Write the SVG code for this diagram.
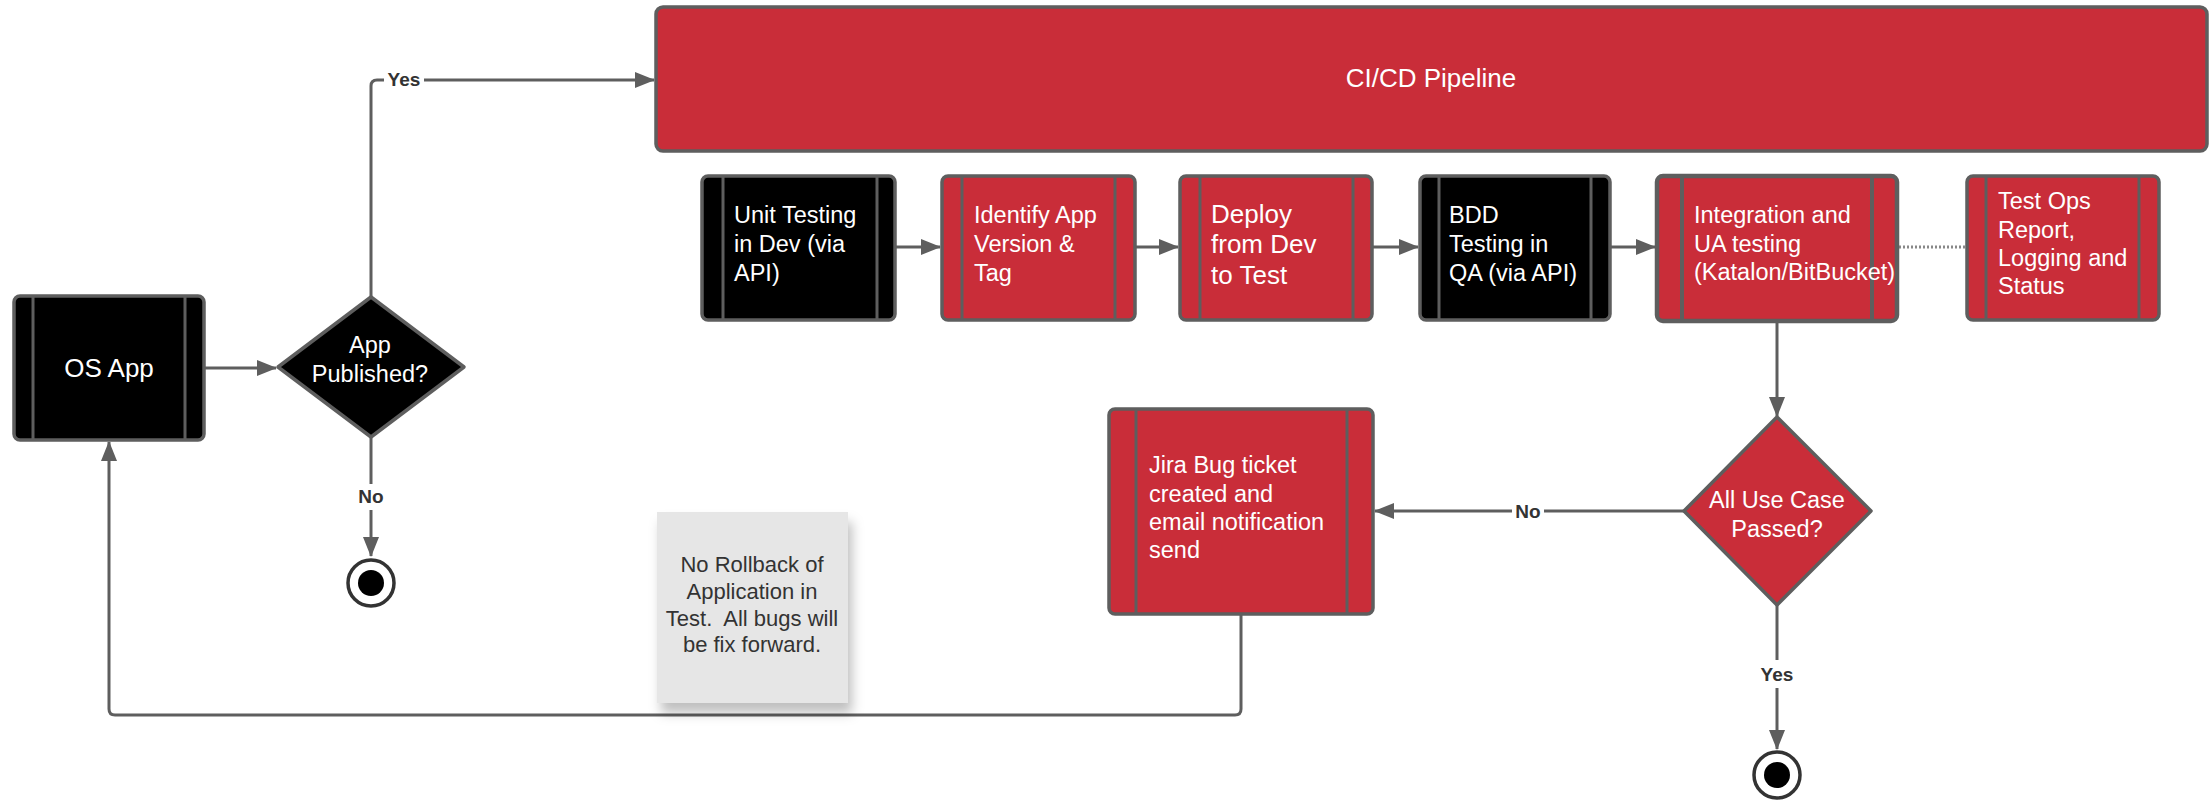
<svg xmlns="http://www.w3.org/2000/svg" width="2211" height="801" viewBox="0 0 2211 801">
<style>
.bx{stroke:#5E5E5E;stroke-width:3.5}
.red{fill:#C92D39}
.blk{fill:#000000}
.div{stroke:#5E5E5E;stroke-width:3;fill:none}
.t{font-family:"Liberation Sans",Arial,sans-serif;font-size:23.5px;fill:#FFFFFF}
.lbl{font-family:"Liberation Sans",Arial,sans-serif;font-size:19px;font-weight:bold;fill:#333333;text-anchor:middle}
.note{font-family:"Liberation Sans",Arial,sans-serif;font-size:22px;fill:#333333;text-anchor:middle}
.ln{stroke:#5E5E5E;stroke-width:3;fill:none}
.dot{stroke:#888888;stroke-width:3;fill:none;stroke-dasharray:2 2}
</style>
<defs>
<marker id="ah" viewBox="0 0 20 16" refX="19" refY="8" markerWidth="20" markerHeight="16" markerUnits="userSpaceOnUse" orient="auto">
<path d="M0,0 L20,8 L0,16 Z" fill="#5E5E5E"/>
</marker>
<filter id="sh" x="-20%" y="-20%" width="140%" height="150%">
<feDropShadow dx="4" dy="10" stdDeviation="6" flood-color="#000000" flood-opacity="0.25"/>
</filter>
</defs>
<rect width="2211" height="801" fill="#FFFFFF"/>

<g id="connectors">
<path class="ln" d="M371,297 L371,86 Q371,80 377,80 L654,80" marker-end="url(#ah)"/>
<rect x="384" y="68" width="40" height="22" fill="#FFFFFF"/>
<text class="lbl" x="404" y="86">Yes</text>
<path class="ln" d="M204,368 L276,368" marker-end="url(#ah)"/>
<path class="ln" d="M371,437 L371,556" marker-end="url(#ah)"/>
<rect x="355" y="484" width="32" height="26" fill="#FFFFFF"/>
<text class="lbl" x="371" y="503">No</text>
<path class="ln" d="M895,247 L940,247" marker-end="url(#ah)"/>
<path class="ln" d="M1135,247 L1178,247" marker-end="url(#ah)"/>
<path class="ln" d="M1372,247 L1418,247" marker-end="url(#ah)"/>
<path class="ln" d="M1610,247 L1655,247" marker-end="url(#ah)"/>
<path class="dot" d="M1899,247 L1966,247"/>
<path class="ln" d="M1777,321 L1777,416" marker-end="url(#ah)"/>
<path class="ln" d="M1684,511 L1375,511" marker-end="url(#ah)"/>
<rect x="1512" y="499" width="32" height="24" fill="#FFFFFF"/>
<text class="lbl" x="1528" y="518">No</text>
<path class="ln" d="M1777,605 L1777,749" marker-end="url(#ah)"/>
<rect x="1758" y="660" width="38" height="28" fill="#FFFFFF"/>
<text class="lbl" x="1777" y="681">Yes</text>
<path class="ln" d="M1241,614 L1241,709 Q1241,715 1235,715 L115,715 Q109,715 109,709 L109,442" marker-end="url(#ah)"/>
</g>

<g id="cicd">
<rect class="bx red" x="656" y="7" width="1551" height="144" rx="7"/>
<text class="t" x="1431" y="87" text-anchor="middle" style="font-size:26px">CI/CD Pipeline</text>
</g>

<g id="os-app">
<rect class="bx blk" x="14" y="296" width="190" height="144" rx="6"/>
<line class="div" x1="33" y1="296" x2="33" y2="440"/>
<line class="div" x1="185" y1="296" x2="185" y2="440"/>
<text class="t" x="109" y="377" text-anchor="middle" style="font-size:26px">OS App</text>
</g>

<g id="app-published">
<polygon class="bx blk" points="371,297 464,367 371,437 278,367" stroke-linejoin="round"/>
<text class="t" x="370" y="353" text-anchor="middle">App</text>
<text class="t" x="370" y="382" text-anchor="middle">Published?</text>
</g>

<g id="end1">
<circle cx="371" cy="583" r="23" fill="#FFFFFF" stroke="#333333" stroke-width="3.5"/>
<circle cx="371" cy="583" r="13" fill="#000000"/>
</g>

<g id="unit-testing">
<rect class="bx blk" x="702" y="176" width="193" height="144" rx="6"/>
<line class="div" x1="723" y1="176" x2="723" y2="320"/>
<line class="div" x1="877" y1="176" x2="877" y2="320"/>
<text class="t" x="734" y="223">Unit Testing</text>
<text class="t" x="734" y="252">in Dev (via</text>
<text class="t" x="734" y="281">API)</text>
</g>

<g id="identify-app">
<rect class="bx red" x="942" y="176" width="193" height="144" rx="6"/>
<line class="div" x1="962" y1="176" x2="962" y2="320"/>
<line class="div" x1="1115" y1="176" x2="1115" y2="320"/>
<text class="t" x="974" y="223">Identify App</text>
<text class="t" x="974" y="252">Version &amp;</text>
<text class="t" x="974" y="281">Tag</text>
</g>

<g id="deploy">
<rect class="bx red" x="1180" y="176" width="192" height="144" rx="6"/>
<line class="div" x1="1200" y1="176" x2="1200" y2="320"/>
<line class="div" x1="1353" y1="176" x2="1353" y2="320"/>
<text class="t" x="1211" y="223" style="font-size:26px">Deploy</text>
<text class="t" x="1211" y="253" style="font-size:26px">from Dev</text>
<text class="t" x="1211" y="284" style="font-size:26px">to Test</text>
</g>

<g id="bdd">
<rect class="bx blk" x="1420" y="176" width="190" height="144" rx="6"/>
<line class="div" x1="1439" y1="176" x2="1439" y2="320"/>
<line class="div" x1="1591" y1="176" x2="1591" y2="320"/>
<text class="t" x="1449" y="223">BDD</text>
<text class="t" x="1449" y="252">Testing in</text>
<text class="t" x="1449" y="281">QA (via API)</text>
</g>

<g id="integration">
<rect class="bx red" x="1657" y="176" width="240" height="145" rx="6" style="stroke-width:4.5"/>
<line class="div" x1="1682" y1="176" x2="1682" y2="321" style="stroke-width:4"/>
<line class="div" x1="1872" y1="176" x2="1872" y2="321" style="stroke-width:4"/>
<text class="t" x="1694" y="223">Integration and</text>
<text class="t" x="1694" y="252">UA testing</text>
<text class="t" x="1694" y="280">(Katalon/BitBucket)</text>
</g>

<g id="test-ops">
<rect class="bx red" x="1967" y="176" width="192" height="144" rx="6"/>
<line class="div" x1="1986" y1="176" x2="1986" y2="320"/>
<line class="div" x1="2139" y1="176" x2="2139" y2="320"/>
<text class="t" x="1998" y="209">Test Ops</text>
<text class="t" x="1998" y="238">Report,</text>
<text class="t" x="1998" y="266">Logging and</text>
<text class="t" x="1998" y="294">Status</text>
</g>

<g id="all-use-case">
<polygon class="bx red" points="1777,417 1871,511 1777,605 1684,511" stroke-linejoin="round"/>
<text class="t" x="1777" y="508" text-anchor="middle">All Use Case</text>
<text class="t" x="1777" y="537" text-anchor="middle">Passed?</text>
</g>

<g id="end2">
<circle cx="1777" cy="775" r="23" fill="#FFFFFF" stroke="#333333" stroke-width="3.5"/>
<circle cx="1777" cy="775" r="13" fill="#000000"/>
</g>

<g id="jira">
<rect class="bx red" x="1109" y="409" width="264" height="205" rx="6"/>
<line class="div" x1="1136" y1="409" x2="1136" y2="614"/>
<line class="div" x1="1347" y1="409" x2="1347" y2="614"/>
<text class="t" x="1149" y="473">Jira Bug ticket</text>
<text class="t" x="1149" y="502">created and</text>
<text class="t" x="1149" y="530">email notification</text>
<text class="t" x="1149" y="558">send</text>
</g>

<g id="note">
<rect x="657" y="512" width="191" height="191" fill="#E6E6E6" filter="url(#sh)"/>
<text class="note" x="752" y="572">No Rollback of</text>
<text class="note" x="752" y="599">Application in</text>
<text class="note" x="752" y="626">Test.&#160; All bugs will</text>
<text class="note" x="752" y="652">be fix forward.</text>
</g>
</svg>
